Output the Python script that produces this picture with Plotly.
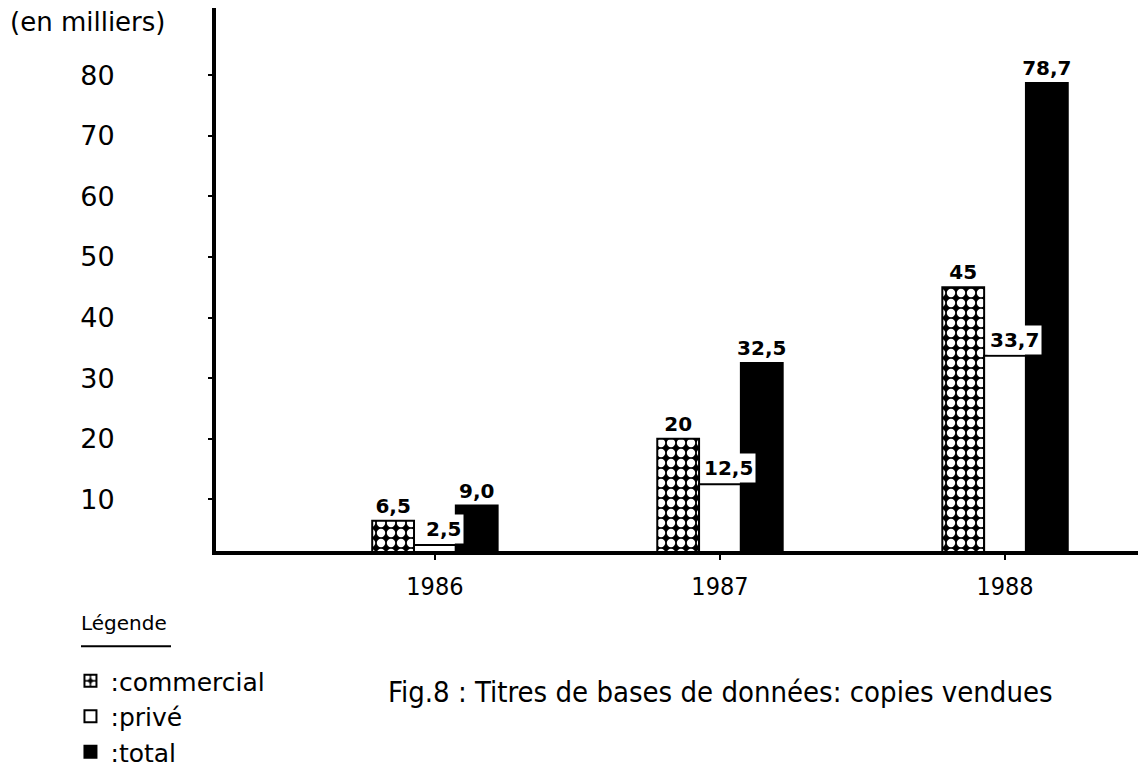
import plotly.graph_objects as go

years = ["1986", "1987", "1988"]
commercial = [6.5, 20, 45]
prive = [2.5, 12.5, 33.7]
total = [9.0, 32.5, 78.7]
commercial_labels = ["6,5", "20", "45"]
prive_labels = ["2,5", "12,5", "33,7"]
total_labels = ["9,0", "32,5", "78,7"]
y_ticks = [10, 20, 30, 40, 50, 60, 70, 80]

FONT = "DejaVu Sans"
COND = "DejaVu Sans Condensed"
label_font = dict(family=FONT, size=20, color="black", weight="bold")

fig = go.Figure()
fig.add_trace(go.Bar(
    x=years, y=commercial, name=":commercial", legendgroup="a",
    text=commercial_labels, textposition="outside", constraintext="none",
    outsidetextfont=label_font, cliponaxis=False,
    marker=dict(color="black", line=dict(color="black", width=2),
                pattern=dict(shape=".", fgcolor="#ffffff", bgcolor="#000000",
                             fgopacity=1, fillmode="replace",
                             size=10, solidity=0.55)),
))
fig.add_trace(go.Bar(
    x=years, y=prive, name=":privé", legendgroup="b",
    marker=dict(color="white", line=dict(color="black", width=2)),
))
fig.add_trace(go.Bar(
    x=years, y=total, name=":total", legendgroup="c",
    text=total_labels, textposition="outside", constraintext="none",
    outsidetextfont=label_font, cliponaxis=False,
    marker=dict(color="black", line=dict(color="black", width=2)),
))

# privé labels sit in small white boxes, as in the original
# (x given as the category's index on the category axis)
annotations = [
    dict(x=i, y=v, xref="x", yref="y", text=lab, showarrow=False,
         xanchor="center", yanchor="bottom", xshift=9, yshift=1,
         bgcolor="white", borderpad=2, font=label_font)
    for i, (v, lab) in enumerate(zip(prive, prive_labels))
]

annotations += [
    dict(text="(en milliers)", xref="paper", yref="paper",
         x=(5 - 213) / 927, y=(550 - 22) / 542, xanchor="left", yanchor="middle",
         showarrow=False, font=dict(family=FONT, size=26, color="black")),
    dict(text="Légende", xref="paper", yref="paper",
         x=(76 - 213) / 927, y=(550 - 622) / 542, xanchor="left", yanchor="middle",
         showarrow=False, font=dict(family=FONT, size=20, color="black")),
    dict(text="Fig.8 : Titres de bases de données: copies vendues",
         xref="paper", yref="paper",
         x=(383 - 213) / 927, y=(550 - 691) / 542, xanchor="left", yanchor="middle",
         showarrow=False, font=dict(family=COND, size=29, color="black")),
]

fig.update_layout(
    width=1138, height=767,
    margin=dict(l=208, r=3, t=0, b=222),
    paper_bgcolor="white", plot_bgcolor="white",
    barmode="group", bargap=0.56, bargroupgap=0,
    font=dict(family=FONT, color="black"),
    showlegend=True,
    legend=dict(
        x=-0.157, xanchor="left", y=-0.198, yanchor="top",
        orientation="v", tracegroupgap=0,
        font=dict(family=FONT, size=25, color="black"),
        bgcolor="rgba(0,0,0,0)",
    ),
    xaxis=dict(
        type="category", range=[-0.768, 2.484],
        showline=True, linecolor="black", linewidth=4,
        ticks="outside", ticklen=5, tickwidth=2, tickcolor="black",
        tickfont=dict(family=COND, size=25, color="black"),
        ticklabelstandoff=5,
        showgrid=False, zeroline=False,
    ),
    yaxis=dict(
        range=[1.5, 91.07],
        tickvals=y_ticks, ticktext=[str(v) for v in y_ticks],
        showline=True, linecolor="black", linewidth=4,
        ticks="outside", ticklen=4, tickwidth=2, tickcolor="black",
        tickfont=dict(family=FONT, size=27, color="black"),
        ticklabelstandoff=88,
        showgrid=False, zeroline=False,
    ),
    annotations=annotations,
    shapes=[
        dict(type="line", xref="paper", yref="paper",
             x0=(78 - 213) / 927, x1=(168 - 213) / 927,
             y0=(550 - 645) / 542, y1=(550 - 645) / 542,
             line=dict(color="black", width=2)),
    ],
)

fig.write_html("out.html")
